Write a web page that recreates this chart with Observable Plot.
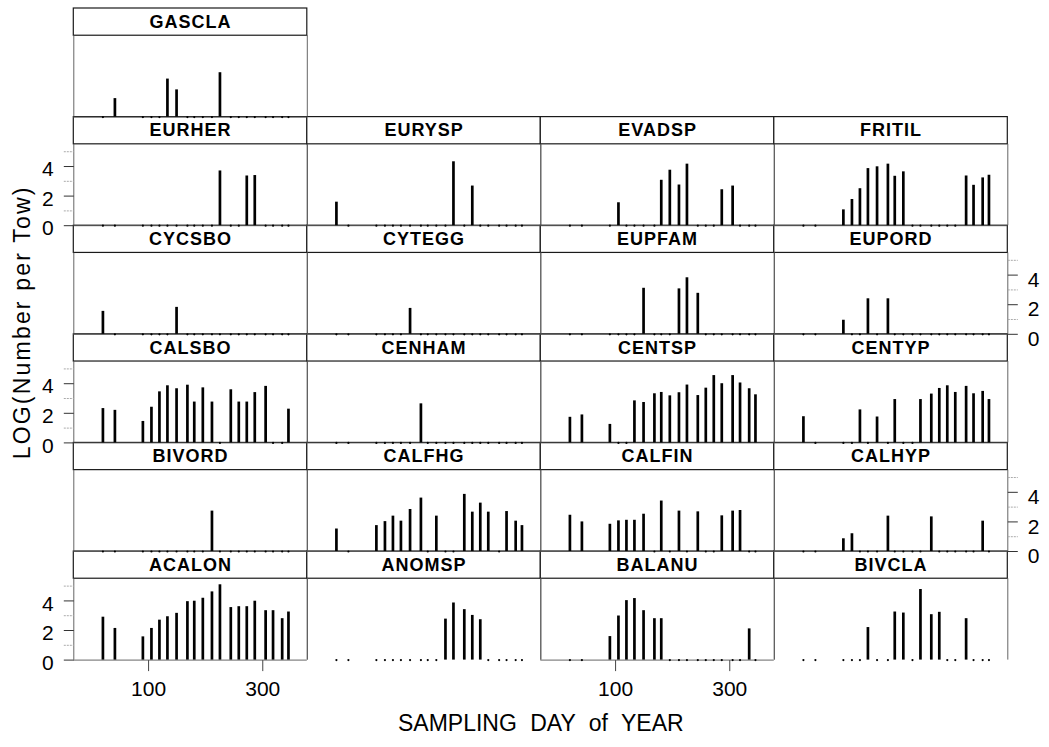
<!DOCTYPE html>
<html>
<head>
<meta charset="utf-8">
<script src="https://cdn.jsdelivr.net/npm/d3@7"></script>
<script src="https://cdn.jsdelivr.net/npm/@observablehq/plot@0.6"></script>
<style>
  html, body { margin: 0; padding: 0; background: #fff; }
  #chart svg { display: block; }
</style>
</head>
<body>
<div id="chart"></div>
<script>
// ---- data (day of year, LOG(Number per Tow)) ----
const samplingDays = [20, 41, 90, 105, 119, 133, 149, 168, 180, 195, 211, 225, 244, 258, 272, 286, 305, 318, 334, 345];

const ACALON = [[20,2.9],[41,2.14],[90,1.57],[105,2.14],[119,2.7],[133,2.93],[149,3.16],[168,3.95],[180,3.98],[195,4.18],[211,4.61],[225,5.09],[244,3.55],[258,3.61],[272,3.61],[286,3.98],[305,3.34],[318,3.34],[334,2.8],[345,3.25]];
const ANOMSP = [[211,2.77],[225,3.86],[244,3.41],[258,3.02],[272,2.73]];
const BALANU = [[90,1.59],[105,2.98],[119,4.02],[133,4.16],[149,3.34],[168,2.8],[180,2.8],[334,2.11]];
const BIVCLA = [[133,2.2],[180,3.25],[195,3.18],[225,4.77],[244,3.07],[258,3.23],[305,2.8]];
const BIVORD = [[211,2.73]];
const CALFHG = [[20,1.52],[90,1.75],[105,2.02],[119,2.39],[133,2.05],[149,2.84],[168,3.61],[195,2.39],[244,3.86],[258,2.66],[272,3.27],[286,2.66],[318,2.7],[334,2.05],[345,1.75]];
const CALFIN = [[20,2.45],[41,2.0],[90,1.84],[105,2.07],[119,2.11],[133,2.11],[149,2.52],[180,3.41],[211,2.73],[244,2.68],[286,2.41],[305,2.73],[318,2.77]];
const CALHYP = [[90,0.86],[105,1.2],[168,2.39],[244,2.34],[334,2.05]];
const CALSBO = [[20,2.32],[41,2.2],[90,1.45],[105,2.41],[119,3.45],[133,3.86],[149,3.66],[168,3.9],[180,2.76],[195,3.72],[211,2.76],[244,3.59],[258,2.76],[272,2.76],[286,3.4],[305,3.82],[345,2.28]];
const CENHAM = [[168,2.64]];
const CENTSP = [[20,1.73],[41,1.89],[90,1.25],[133,2.84],[149,2.73],[168,3.32],[180,3.41],[195,3.18],[211,3.39],[225,3.91],[244,3.2],[258,3.7],[272,4.55],[286,4.0],[305,4.55],[318,4.05],[334,3.66],[345,3.25]];
const CENTYP = [[20,1.77],[119,2.23],[149,1.75],[180,2.93],[225,2.93],[244,3.3],[258,3.68],[272,3.86],[286,3.41],[305,3.82],[318,3.32],[334,3.48],[345,2.93]];
const CYCSBO = [[20,1.55],[149,1.82]];
const CYTEGG = [[149,1.75]];
const EUPFAM = [[149,3.11],[211,3.07],[225,3.82],[244,2.77]];
const EUPORD = [[90,0.95],[133,2.4],[168,2.4]];
const EURHER = [[225,3.7],[272,3.36],[286,3.39]];
const EURYSP = [[20,1.59],[225,4.32],[258,2.68]];
const EVADSP = [[105,1.55],[180,3.07],[195,3.75],[211,2.75],[225,4.16],[286,2.43],[305,2.68]];
const FRITIL = [[90,1.07],[105,1.77],[119,2.5],[133,3.86],[149,3.98],[168,4.16],[180,3.34],[195,3.64],[305,3.36],[318,2.73],[334,3.23],[345,3.41]];
const GASCLA = [[41,1.25],[133,2.57],[149,1.84],[225,3.0]];

// panel order (lattice order: left to right, bottom to top)
const speciesNames = ["ACALON","ANOMSP","BALANU","BIVCLA","BIVORD","CALFHG","CALFIN","CALHYP",
  "CALSBO","CENHAM","CENTSP","CENTYP","CYCSBO","CYTEGG","EUPFAM","EUPORD",
  "EURHER","EURYSP","EVADSP","FRITIL","GASCLA"];
const speciesData = [ACALON,ANOMSP,BALANU,BIVCLA,BIVORD,CALFHG,CALFIN,CALHYP,
  CALSBO,CENHAM,CENTSP,CENTYP,CYCSBO,CYTEGG,EUPFAM,EUPORD,
  EURHER,EURYSP,EVADSP,FRITIL,GASCLA];

const yTickValues = [0, 1, 2, 3, 4, 5];
const yTickLabels = [0, 2, 4];
const xTickValues = [100, 300];
const xTitle = "SAMPLING DAY of YEAR";
const yTitle = "LOG(Number per Tow)";

// ---- layout helpers ----
const NCOL = 4, NROW = 6;
const XDOM = [-31, 378];
const YPANEL = 5.5;          // top of the data region
const YDOM = [0, 7.34];      // includes the strip above each panel

const panels = speciesNames.map((name, i) => {
  const lrow = Math.floor(i / NCOL);
  return {name, col: i % NCOL, lrow, row: NROW - 1 - lrow};
});
const bars = [], zeros = [];
panels.forEach((p, i) => {
  const d = speciesData[i];
  const present = new Set(d.map(r => r[0]));
  d.forEach(([day, v]) => bars.push({...p, day, v}));
  samplingDays.forEach(day => { if (!present.has(day)) zeros.push({...p, day}); });
});

const leftPanels = panels.filter(p => p.col === 0 && p.lrow % 2 === 0);
const rightPanels = panels.filter(p => p.col === NCOL - 1 && p.lrow % 2 === 1);
const bottomPanels = panels.filter(p => p.lrow === 0 && p.col % 2 === 0);
const framedBottom = panels.filter(p => !(p.lrow === 0 && p.col % 2 === 1));

const tickRows = ps => ps.flatMap(p => yTickValues.map(v => ({...p, v, major: yTickLabels.includes(v)})));
const leftTicks = tickRows(leftPanels);
const rightTicks = tickRows(rightPanels);
const bottomTicks = bottomPanels.flatMap(p => xTickValues.map(v => ({...p, v})));

const tickLeft = {draw(ctx) { ctx.moveTo(-10, 0); ctx.lineTo(0, 0); }};
const tickRight = {draw(ctx) { ctx.moveTo(0, 0); ctx.lineTo(10, 0); }};
const tickDown = {draw(ctx) { ctx.moveTo(0, 0); ctx.lineTo(0, 11); }};

const F = {fx: "col", fy: "row"};

const chart = Plot.plot({
  width: 1049,
  height: 747,
  marginLeft: 73.3,
  marginRight: 41.7,
  marginTop: 8,
  marginBottom: 87.4,
  style: {fontFamily: "'Liberation Sans', Arial, sans-serif", background: "#fff", color: "#000"},
  fx: {domain: [0, 1, 2, 3], padding: 0, axis: null, round: false},
  fy: {domain: [0, 1, 2, 3, 4, 5], padding: 0, axis: null, round: false},
  x: {domain: XDOM, axis: null},
  y: {domain: YDOM, axis: null},
  marks: [
    // strip boxes and labels
    Plot.rect(panels, {...F, x1: XDOM[0], x2: XDOM[1], y1: YPANEL, y2: YDOM[1], fill: "#fff", stroke: "#1a1a1a", strokeWidth: 1.2}),
    Plot.text(panels, {...F, x: (XDOM[0] + XDOM[1]) / 2, y: (YPANEL + YDOM[1]) / 2, text: "name",
      fontWeight: "bold", fontSize: 18, fill: "#000"}),
    // panel borders
    Plot.ruleX(panels, {...F, x: XDOM[0], y1: 0, y2: YPANEL, stroke: "#555", strokeWidth: 0.9}),
    Plot.ruleX(panels, {...F, x: XDOM[1], y1: 0, y2: YPANEL, stroke: "#555", strokeWidth: 0.9}),
    Plot.ruleY(framedBottom, {...F, y: 0, stroke: "#555", strokeWidth: 0.9}),
    // data
    Plot.dot(zeros, {...F, x: "day", y: 0, r: 1.1, fill: "#000", stroke: "none"}),
    Plot.ruleX(bars, {...F, x: "day", y1: 0, y2: "v", stroke: "#000", strokeWidth: 2.7}),
    // y axes (left on rows 1,3,5 from bottom; right on rows 2,4)
    Plot.dot(leftTicks.filter(d => d.major), {...F, y: "v", frameAnchor: "left", symbol: tickLeft, fill: "none", stroke: "#333", strokeWidth: 1}),
    Plot.dot(leftTicks.filter(d => !d.major), {...F, y: "v", frameAnchor: "left", symbol: tickLeft, fill: "none", stroke: "#aaa", strokeWidth: 1, strokeDasharray: "2,1"}),
    Plot.text(leftTicks.filter(d => d.major), {...F, y: "v", text: d => String(d.v), frameAnchor: "left", textAnchor: "end", dx: -20, dy: 3, fontSize: 21}),
    Plot.dot(rightTicks.filter(d => d.major), {...F, y: "v", frameAnchor: "right", symbol: tickRight, fill: "none", stroke: "#333", strokeWidth: 1}),
    Plot.dot(rightTicks.filter(d => !d.major), {...F, y: "v", frameAnchor: "right", symbol: tickRight, fill: "none", stroke: "#aaa", strokeWidth: 1, strokeDasharray: "2,1"}),
    Plot.text(rightTicks.filter(d => d.major), {...F, y: "v", text: d => String(d.v), frameAnchor: "right", textAnchor: "start", dx: 20, dy: 5, fontSize: 21}),
    // x axes (bottom of columns 1 and 3)
    Plot.dot(bottomTicks, {...F, x: "v", frameAnchor: "bottom", symbol: tickDown, fill: "none", stroke: "#444", strokeWidth: 1}),
    Plot.text(bottomTicks, {...F, x: "v", text: d => String(d.v), frameAnchor: "bottom", dy: 36, fontSize: 21}),
    // axis titles
    Plot.text([{col: 1, row: 5, label: xTitle}], {...F, text: "label", frameAnchor: "bottom-right", textAnchor: "middle", dy: 71, fontSize: 23}),
    Plot.text([{col: 0, row: 3, label: yTitle}], {...F, text: "label", frameAnchor: "top-left", textAnchor: "middle", dx: -60, dy: -12, rotate: -90, fontSize: 23})
  ]
});

// text spacing tweaks to match the wide lettering of the original
d3.select(chart).selectAll("text").each(function () {
  const t = this.textContent;
  if (speciesNames.includes(t)) this.style.letterSpacing = "1px";
  else if (t === xTitle) this.style.wordSpacing = "7px";
  else if (t === yTitle) this.style.letterSpacing = "2.2px";
});
document.getElementById("chart").appendChild(chart);
</script>
</body>
</html>
